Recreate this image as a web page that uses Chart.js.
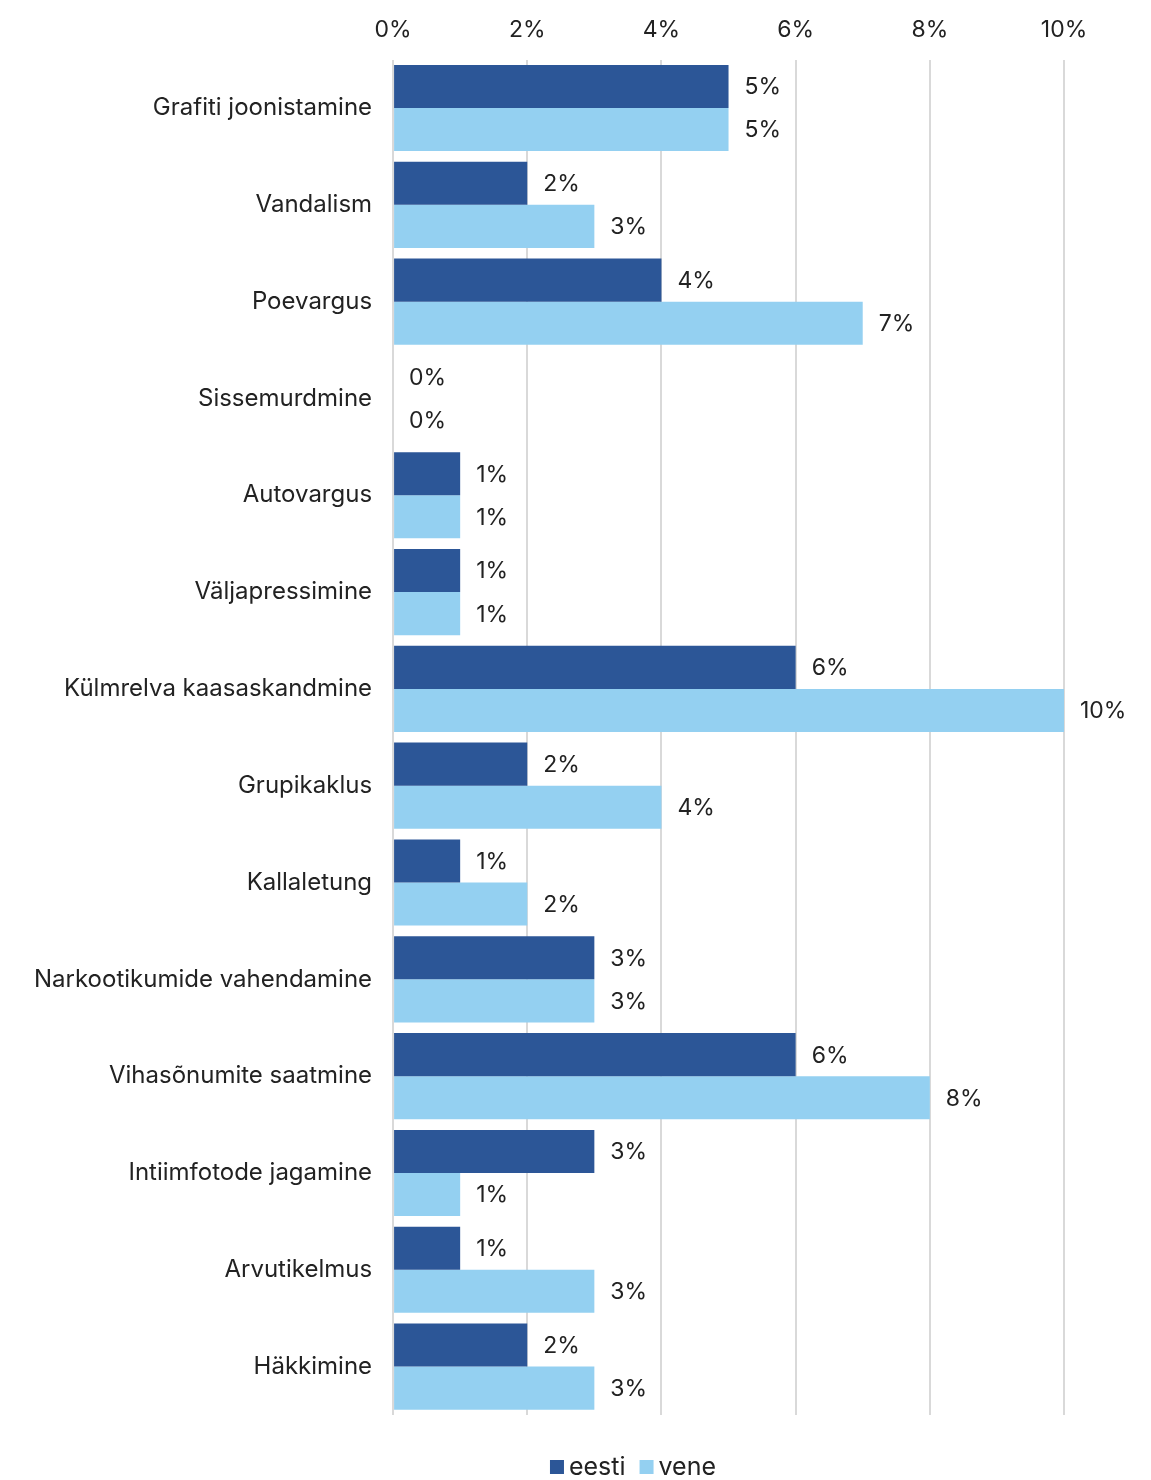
<!DOCTYPE html>
<html>
<head>
<meta charset="utf-8">
<script src="https://cdn.jsdelivr.net/npm/chart.js@4"></script>
<style>
  html, body { margin: 0; padding: 0; background: #fff; }
  #wrap { width: 1151px; height: 1480px; }
</style>
</head>
<body>
<div id="wrap"><canvas id="chart"></canvas></div>
<script>
const categories = [
    "Grafiti joonistamine", "Vandalism", "Poevargus", "Sissemurdmine",
    "Autovargus", "Väljapressimine", "Külmrelva kaasaskandmine", "Grupikaklus",
    "Kallaletung", "Narkootikumide vahendamine", "Vihasõnumite saatmine",
    "Intiimfotode jagamine", "Arvutikelmus", "Häkkimine"
];
const eesti = [5, 2, 4, 0, 1, 1, 6, 2, 1, 3, 6, 3, 1, 2];
const vene = [5, 3, 7, 0, 1, 1, 10, 4, 2, 3, 8, 1, 3, 3];
const xTicks = [0, 2, 4, 6, 8, 10];

const FONT = "Inter, 'Noto Sans', sans-serif";
const TEXT = "#222222";

// silt iga tulba lõppu
const valueLabels = {
    id: "valueLabels",
    afterDatasetsDraw(chart) {
        const ctx = chart.ctx;
        ctx.save();
        ctx.font = "23px " + FONT;
        ctx.fillStyle = TEXT;
        ctx.textAlign = "left";
        ctx.textBaseline = "middle";
        chart.data.datasets.forEach((ds, i) => {
            const meta = chart.getDatasetMeta(i);
            meta.data.forEach((bar, j) => {
                ctx.fillText(ds.data[j] + "%", bar.x + 16, bar.y + 1);
            });
        });
        ctx.restore();
    }
};

// oma legend: kitsad vahed nagu originaalis
const bottomLegend = {
    id: "bottomLegend",
    afterDraw(chart) {
        const ctx = chart.ctx;
        const box = 14, gapText = 5, gapItem = 14;
        const cx = 633, cy = 1467;
        ctx.save();
        ctx.font = "25px " + FONT;
        ctx.textBaseline = "middle";
        ctx.textAlign = "left";
        const items = chart.data.datasets.map(ds => ({
            text: ds.label,
            color: ds.backgroundColor,
            w: ctx.measureText(ds.label).width
        }));
        let total = 0;
        items.forEach((it, i) => {
            total += box + gapText + it.w + (i ? gapItem : 0);
        });
        let x = cx - total / 2;
        items.forEach(it => {
            ctx.fillStyle = it.color;
            ctx.fillRect(x, cy - box / 2, box, box);
            ctx.fillStyle = TEXT;
            ctx.fillText(it.text, x + box + gapText, cy);
            x += box + gapText + it.w + gapItem;
        });
        ctx.restore();
    }
};

new Chart(document.getElementById("chart"), {
    type: "bar",
    data: {
        labels: categories,
        datasets: [
            { label: "eesti", data: eesti, backgroundColor: "#2c5697" },
            { label: "vene", data: vene, backgroundColor: "#94d0f1" }
        ]
    },
    options: {
        indexAxis: "y",
        responsive: true,
        maintainAspectRatio: false,
        animation: false,
        categoryPercentage: 0.89,
        barPercentage: 1,
        layout: { padding: { left: 13, right: 87, top: 0, bottom: 65 } },
        plugins: {
            legend: { display: false },
            tooltip: { enabled: false }
        },
        scales: {
            x: {
                position: "top",
                min: 0,
                max: 10,
                afterBuildTicks(axis) {
                    axis.ticks = xTicks.map(v => ({ value: v }));
                },
                grid: { color: "#d9d9d9", lineWidth: 2, drawTicks: false },
                border: { display: false },
                ticks: {
                    padding: 16,
                    color: TEXT,
                    font: { family: FONT, size: 23 },
                    callback: v => v + "%"
                }
            },
            y: {
                grid: { display: false, drawTicks: false },
                border: { display: false },
                ticks: {
                    padding: 21,
                    color: TEXT,
                    font: { family: FONT, size: 24 }
                }
            }
        }
    },
    plugins: [valueLabels, bottomLegend]
});
</script>
</body>
</html>
